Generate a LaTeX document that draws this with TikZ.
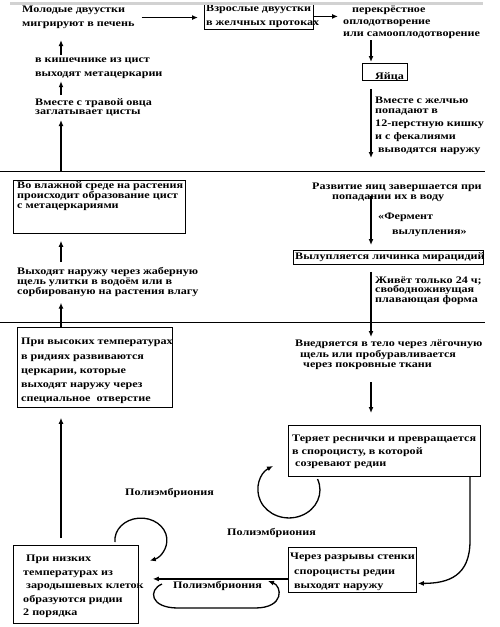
\documentclass[tikz,border=0pt]{standalone}
\usepackage{fontspec}
\setmainfont{Liberation Serif}[FakeStretch=1.21]
\usetikzlibrary{arrows.meta}

\begin{document}
\begin{tikzpicture}[x=1pt,y=-1pt,
    txt/.style={inner sep=0pt, anchor=north west, align=left, font=\bfseries\fontsize{10}{10}\selectfont},
    ls/.style={font=\bfseries\fontsize{10}{#1}\selectfont},
    box/.style={draw, line width=0.8pt, inner sep=0pt, anchor=north west},
    arr/.style={-{Latex[length=6pt,width=5pt]}, line width=1.3pt},
    rule/.style={line width=1pt}]
                \useasboundingbox (0,0) rectangle (500,627);
                \coordinate (lx) at (61,0);
                \coordinate (rx) at (371,0);
                \coordinate (cx) at (470,0);
                % first band
                \node[txt, ls=14] (young) at (22,6) {Молодые двуустки\\мигрируют в печень};
                \node[box, minimum width=109, minimum height=26] (adult) at (204,3) {};
                \node[txt, ls=14] (adulttxt) at (206,5) {Взрослые двуустки\\в желчных протоках};
                \node[txt, ls=12] (cross) at (343,6) {\hspace{9pt}перекрёстное\\оплодотворение\\или самооплодотворение};
                \node[box, minimum width=45, minimum height=17] (eggs) at (362,63) {};
                \node[txt] (eggstxt) at (375,72) {Яйца};
                \node[txt, ls=13] (bile) at (375,97) {Вместе с желчью\\[-3pt]попадают в\\12-перстную кишку\\и с фекалиями\\\hspace{3pt}выводятся наружу};
                \node[txt, ls=14] (intest) at (35,58) {в кишечнике из цист\\выходят метацеркарии};
                \node[txt, ls=9] (grass) at (35,98) {Вместе с травой овца\\заглатывает цисты};
                \draw[rule] (0,171) -- (485,171);
                \draw[rule] (0,322) -- (485,322);
                % second band
                \node[box, minimum width=172, minimum height=53] (wet) at (13,180) {};
                \node[txt, ls=10] (wettxt) at (17,181) {Во влажной среде на растения\\происходит образование цист\\с метацеркариями};
                \node[txt, ls=10] (exit) at (17,267) {Выходят наружу через жаберную\\щель улитки в водоём или в\\сорбированую на растения влагу};
                \node[txt, ls=10] (develop) at (312,183) {Развитие яиц завершается при\\\hspace{20pt}попадании их в воду};
                \node[txt, ls=15] (enzyme) at (378,213) {«Фермент\\\hspace{14pt}вылупления»};
                \node[box, minimum width=190, minimum height=14] (hatch) at (293,250) {};
                \node[txt] (hatchtxt) at (295,252) {Вылупляется личинка мирацидий};
                \node[txt, ls=9] (lives) at (375,277) {Живёт только 24 ч;\\свободноживущая\\плавающая форма};
                % third band
                \node[box, minimum width=155, minimum height=80] (high) at (17,327) {};
                \node[txt, ls=14.3] (hightxt) at (21,338) {При высоких температурах\\в ридиях развиваются\\церкарии, которые\\выходят наружу через\\специальное\ \ отверстие};
                \node[txt, ls=10.5] (enter) at (295,340) {Внедряется в тело через лёгочную\\\hspace{5pt}щель или пробуравливается\\\hspace{8pt}через покровные ткани};
                \node[box, minimum width=192, minimum height=51] (lose) at (288,425) {};
                \node[txt, ls=12.5] (losetxt) at (292,435) {Теряет реснички и превращается\\в спороцисту, в которой\\\hspace{3pt}созревают редии};
                \node[box, minimum width=128, minimum height=45] (burst) at (288,547) {};
                \node[txt, ls=14.5] (bursttxt) at (290,553) {Через разрывы стенки\\\hspace{4pt}спороцисты редии\\\hspace{4pt}выходят наружу};
                \node[box, minimum width=125, minimum height=78] (low) at (13,545) {};
                \node[txt, ls=13.5] (lowtxt) at (23,555) {\hspace{3pt}При низких\\температурах из\\\hspace{3pt}зародышевых клеток\\образуются ридии\\2 порядка};
                \node[txt] (polya) at (125,488) {Полиэмбриония};
                \node[txt] (polyb) at (227,528) {Полиэмбриония};
                \node[txt] (polyc) at (173,581) {Полиэмбриония};
                % arrows
                \draw[arr, shorten <=7pt, shorten >=6pt] (young.east) -- (young.east -| adult.west);
                \draw[arr, shorten >=5pt] (adult.east) -- (adult.east -| cross.west);
                \draw[arr, shorten <=1pt, shorten >=1pt] (cross.south -| rx) -- (eggs.north -| rx);
                \draw[arr, shorten <=8pt, shorten >=25pt] (eggs.south -| rx) -- (develop.north -| rx);
                \draw[arr, shorten <=3pt, shorten >=5pt] (develop.center -| rx) -- (hatch.north -| rx);
                \draw[arr, shorten <=7pt, shorten >=3pt] (hatch.south -| rx) -- (enter.north -| rx);
                \draw[arr, shorten <=12pt, shorten >=12pt] (enter.south -| rx) -- (lose.north -| rx);
                \draw[arr, shorten >=1pt] (lose.south -| cx) -- ++(0,64) .. controls +(0,35) and +(32,0) .. ([yshift=-13.5pt]burst.east);
                \draw[arr, shorten >=14pt] ([yshift=-9pt]burst.west) -- ([yshift=-9pt]burst.west -| low.east);
                \draw[arr, shorten <=7pt, shorten >=10pt] (low.north -| lx) -- (high.south -| lx);
                \draw[arr, shorten >=6pt] (high.north -| lx) -- (exit.south -| lx);
                \draw[arr, shorten <=5pt, shorten >=7pt] (exit.north -| lx) -- (wet.south -| lx);
                \draw[arr, shorten <=9pt, shorten >=4pt] (wet.north -| lx) -- (grass.south -| lx);
                \draw[arr, shorten <=3pt, shorten >=2pt] (grass.north -| lx) -- (intest.south -| lx);
                \draw[arr, shorten <=3pt, shorten >=11pt] (intest.north -| lx) -- (young.south -| lx);
                % loops
                \coordinate (loopa) at (317.5,479);
                \draw[arr] (loopa) arc[start angle=-23, end angle=239, x radius=31, y radius=28];
                \coordinate (loopb) at (115,542);
                \draw[arr] (loopb) arc[start angle=175, end angle=430, x radius=26, y radius=22];
                \coordinate (loopc) at (162,584);
                \draw[arr] (loopc) .. controls (148,590) and (150,608) .. (178,608) -- (255,608) .. controls (285,608) and (282,586) .. (268,581);
                \draw[gray!35, line width=3pt] (10,3.5) -- (483,3.5);
            \end{tikzpicture}
\end{document}
